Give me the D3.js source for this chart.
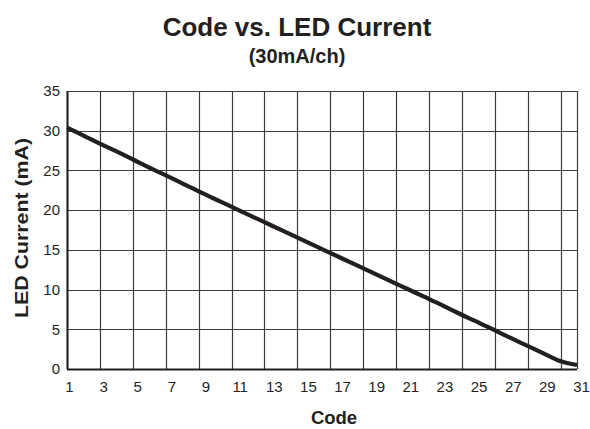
<!DOCTYPE html>
<html>
<head>
<meta charset="utf-8">
<script src="https://cdn.jsdelivr.net/npm/d3@7"></script>
<style>
  body { margin: 0; background: #fff; }
  text { font-family: "Liberation Sans", Arial, sans-serif; fill: #231f20; }
  .axis .domain { display: none; }
</style>
</head>
<body>
<div id="chart-area"></div>
<script>
// Data
let codes = [1, 2, 3, 4, 5, 6, 7, 8, 9, 10, 11, 12, 13, 14, 15, 16,
             17, 18, 19, 20, 21, 22, 23, 24, 25, 26, 27, 28, 29, 30, 31];
let current = [30.4, 29.35, 28.3, 27.3, 26.25, 25.2, 24.2, 23.15, 22.1, 21.1, 20.1,
               19.1, 18.1, 17.1, 16.1, 15.1, 14.1, 13.1, 12.1, 11.1, 10.1,
               9.1, 8.1, 7.05, 6.05, 5.05, 4.0, 3.0, 2.0, 1.0, 0.5];
let xTickLabels = [1, 3, 5, 7, 9, 11, 13, 15, 17, 19, 21, 23, 25, 27, 29, 31];
let yTicks = [0, 5, 10, 15, 20, 25, 30, 35];
// grid divisions used by the original plot (31 steps, a line every 2)
let gridSteps = [0, 2, 4, 6, 8, 10, 12, 14, 16, 18, 20, 22, 24, 26, 28, 30, 31];

let data = codes.map((c, i) => ({code: c, value: current[i]}));

// SVG drawing area
let margin = {top: 91, right: 13, bottom: 60, left: 67};
let width = 590 - margin.left - margin.right,
    height = 429 - margin.top - margin.bottom;

let svg = d3.select("#chart-area").append("svg")
    .attr("width", 590)
    .attr("height", 429);

let g = svg.append("g")
    .attr("transform", `translate(${margin.left}, ${margin.top})`);

// Scales
let x = d3.scaleLinear().domain([1, 31]).range([0, width]);
let xLabel = d3.scaleLinear().domain([1, 31]).range([2, width + 4]);
let xGrid = d3.scaleLinear().domain([0, 31]).range([0, width]);
let y = d3.scaleLinear().domain([0, 35]).range([height, 0]);

// Grid
g.append("g").selectAll("line.v")
    .data(gridSteps)
  .enter().append("line")
    .attr("x1", d => Math.round(xGrid(d)) + 0.5)
    .attr("x2", d => Math.round(xGrid(d)) + 0.5)
    .attr("y1", 0)
    .attr("y2", height)
    .attr("stroke", "#3c3c3c")
    .attr("stroke-width", 1.2);

g.append("g").selectAll("line.h")
    .data(yTicks)
  .enter().append("line")
    .attr("x1", 0)
    .attr("x2", width)
    .attr("y1", d => Math.round(y(d)) + 0.5)
    .attr("y2", d => Math.round(y(d)) + 0.5)
    .attr("stroke", "#3c3c3c")
    .attr("stroke-width", 1.2);

// Left and bottom axis lines are heavier
g.append("line")
    .attr("x1", 0.5).attr("x2", 0.5)
    .attr("y1", 0).attr("y2", height)
    .attr("stroke", "#231f20").attr("stroke-width", 2);
g.append("line")
    .attr("x1", 0).attr("x2", width)
    .attr("y1", Math.round(height) + 0.5).attr("y2", Math.round(height) + 0.5)
    .attr("stroke", "#231f20").attr("stroke-width", 2);

// Axes
let yAxisGroup = g.append("g")
    .attr("class", "y-axis axis")
    .call(d3.axisLeft(y).tickValues(yTicks).tickSize(0).tickPadding(7));
yAxisGroup.selectAll("text")
    .style("font-size", "15px");

let xAxisGroup = g.append("g")
    .attr("class", "x-axis axis")
    .attr("transform", `translate(0, ${height})`)
    .call(d3.axisBottom(xLabel).tickValues(xTickLabels).tickSize(0).tickPadding(12));
xAxisGroup.selectAll("text")
    .style("font-size", "15px");

// Line
let line = d3.line()
    .x(d => x(d.code))
    .y(d => y(d.value))
    .curve(d3.curveMonotoneX);

g.append("path")
    .datum(data)
    .attr("fill", "none")
    .attr("stroke", "#231f20")
    .attr("stroke-width", 4.2)
    .attr("d", line);

// Titles
svg.append("text")
    .attr("x", 297)
    .attr("y", 36)
    .attr("text-anchor", "middle")
    .style("font-size", "26px")
    .style("font-weight", "bold")
    .text("Code vs. LED Current");

svg.append("text")
    .attr("x", 297)
    .attr("y", 63)
    .attr("text-anchor", "middle")
    .style("font-size", "20px")
    .style("font-weight", "bold")
    .text("(30mA/ch)");

svg.append("text")
    .attr("x", 334)
    .attr("y", 424)
    .attr("text-anchor", "middle")
    .style("font-size", "18.5px")
    .style("font-weight", "bold")
    .text("Code");

svg.append("text")
    .attr("transform", "translate(28, 228) rotate(-90)")
    .attr("text-anchor", "middle")
    .attr("textLength", 180)
    .attr("lengthAdjust", "spacingAndGlyphs")
    .style("font-size", "18.5px")
    .style("font-weight", "bold")
    .text("LED Current (mA)");
</script>
</body>
</html>
